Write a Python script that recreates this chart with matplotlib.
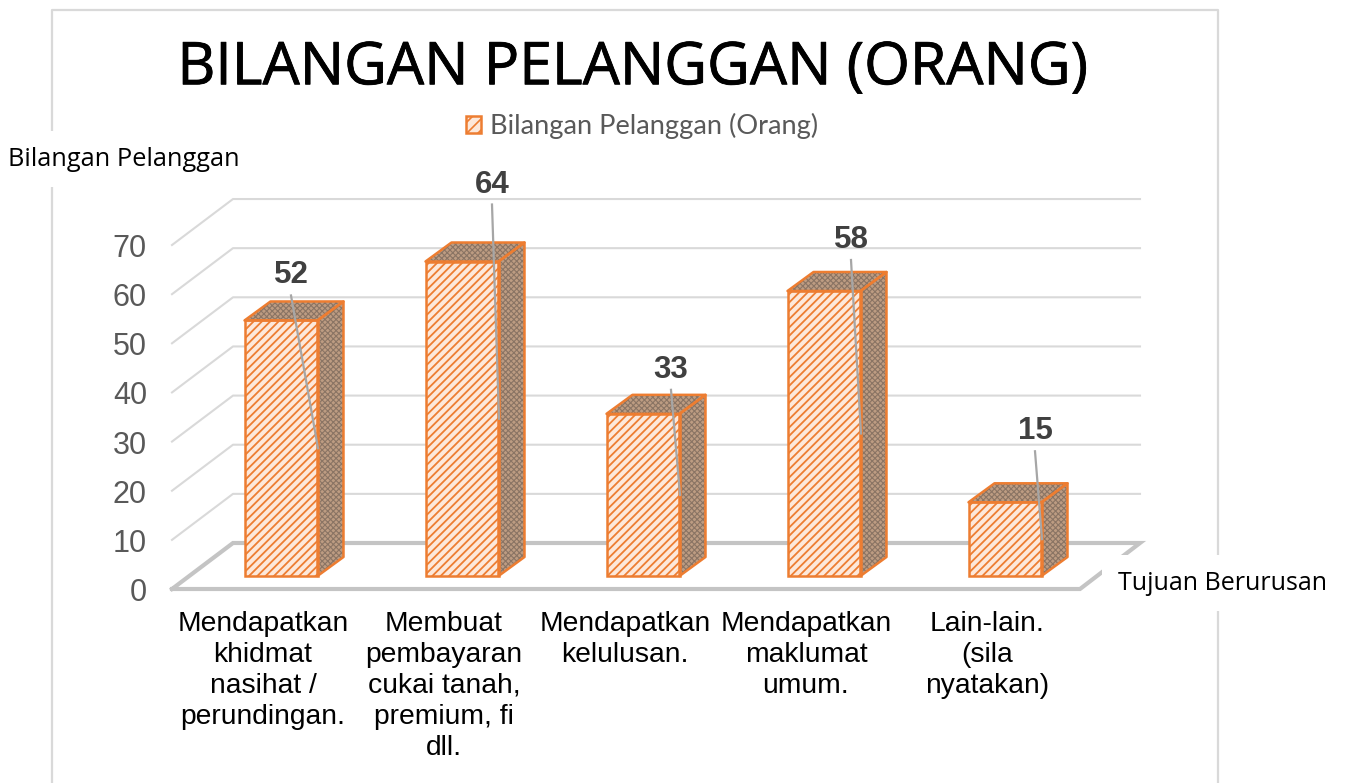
import matplotlib
matplotlib.use('Agg')
import matplotlib.pyplot as plt
import matplotlib.patheffects as pe
from matplotlib.patches import Polygon, Patch

# Data
categories = ['Mendapatkan\nkhidmat\nnasihat /\nperundingan.',
              'Membuat\npembayaran\ncukai tanah,\npremium, fi\ndll.',
              'Mendapatkan\nkelulusan.',
              'Mendapatkan\nmaklumat\numum.',
              'Lain-lain.\n(sila\nnyatakan)']
values = [52, 64, 33, 58, 15]
y_ticks = [0, 10, 20, 30, 40, 50, 60, 70]
series_name = 'Bilangan Pelanggan (Orang)'
title = 'BILANGAN PELANGGAN (ORANG)'
y_label = 'Bilangan Pelanggan'
x_label = 'Tujuan Berurusan'

# Pixel layout of the fake 3D box
W, H = 1346, 783
X0 = 281      # first bar centre
STEP = 181    # distance between bars
BASE = 576    # bar bottom
PX_UNIT = 4.914
ORANGE = '#ed7d31'
GRID = '#d9d9d9'
FLOOR = '#c4c4c4'

# leader lines and labels, pixels relative to bar centre / bar top
label_dx = [10, 30, 28, 27, 30]
label_dy = [45, 77, 44, 51, 71]
leader_dx = 37

fig = plt.figure(figsize=(W / 100, H / 100), dpi=100)
ax = fig.add_axes([0, 0, 1, 1])
ax.set_xlim((0 - X0) / STEP, (W - X0) / STEP)
ax.set_ylim((BASE - H) / PX_UNIT, BASE / PX_UNIT)
ax.axis('off')


def dx(px):
    return px / STEP


def dy(px):
    return px / PX_UNIT


def xp(px):
    return (px - X0) / STEP


# chart frame
ax.plot([xp(52), xp(52), xp(1218), xp(1218)], [-dy(H - BASE), dy(BASE - 10), dy(BASE - 10), -dy(H - BASE)],
        color='#d9d9d9', lw=1.6, zorder=1)

# back wall and side wall gridlines
for v in y_ticks[1:]:
    back = v + dy(BASE - 543)
    front = v + dy(BASE - 589)
    ax.plot([xp(172), xp(233), xp(1140)], [front, back, back], color=GRID, lw=1.5, zorder=2)

# floor
floor_back = dy(BASE - 543)
floor_front = dy(BASE - 589)
ax.plot([xp(172), xp(233), xp(1140), xp(1080), xp(172)],
        [floor_front, floor_back, floor_back, floor_front, floor_front],
        color=FLOOR, lw=3, zorder=2, solid_joinstyle='miter')

# y tick labels
for v in y_ticks:
    ax.text(xp(147), v + floor_front - dy(4), str(v), ha='right', va='center', fontsize=22,
            family='Liberation Sans', color='#595959', zorder=6)

# bars
bar_w = 73 / STEP
depth_x = dx(26)
depth_y = dy(19)
x_pos = list(range(len(values)))
plt.rcParams['hatch.linewidth'] = 1.3
bars = ax.bar(x_pos, values, width=bar_w, facecolor='#fde8da', edgecolor=ORANGE, linewidth=1.8,
              hatch='////', zorder=4)
ax.set_xlim((0 - X0) / STEP, (W - X0) / STEP)
ax.set_ylim((BASE - H) / PX_UNIT, BASE / PX_UNIT)

plt.rcParams['hatch.linewidth'] = 0.8
for i, v in enumerate(values):
    left = i - bar_w / 2
    right = i + bar_w / 2
    side = [(right, 0), (right + depth_x, depth_y), (right + depth_x, v + depth_y), (right, v)]
    top = [(left, v), (right, v), (right + depth_x, v + depth_y), (left + depth_x, v + depth_y)]
    for pts in (side, top):
        ax.add_patch(Polygon(pts, facecolor='#bd9c82', edgecolor='#8a7464', hatch='xxxxxx', lw=0, zorder=3.5))
        ax.add_patch(Polygon(pts, facecolor='none', edgecolor=ORANGE, lw=1.8, zorder=4, joinstyle='round'))

    # data label and its leader line
    lx = i + dx(label_dx[i])
    ly = v + dy(label_dy[i])
    ax.text(lx, ly, str(v), ha='center', va='center', fontsize=22.5, fontweight='bold',
            family='Liberation Sans', color='#404040', zorder=6)
    ax.plot([lx, i + dx(leader_dx)], [ly - dy(20), v * 0.5], color='#a6a6a6', lw=1.6, zorder=5)

# category labels
for i, c in enumerate(categories):
    ax.text(i - dx(18), -dy(35), c, ha='center', va='top', fontsize=20.3, family='Liberation Sans',
            color='black', linespacing=1.245, zorder=6)

# title
ax.text(xp(633), dy(BASE - 69), title, ha='center', va='center', fontsize=42.4, family='Open Sans',
        color='black', zorder=6, path_effects=[pe.withStroke(linewidth=0.6, foreground='black')])

# legend
plt.rcParams['hatch.linewidth'] = 1.2
leg = ax.legend(handles=[Patch(facecolor='#fde8da', edgecolor=ORANGE, hatch='///', lw=1.8, label=series_name)],
                loc='center', bbox_to_anchor=(642 / W, 1 - 126 / H), frameon=False,
                prop={'family': 'Lato', 'size': 19.6}, labelcolor='#595959',
                handlelength=0.55, handleheight=0.55, handletextpad=0.3)

# axis titles with white box over the frame
ax.text(xp(124), dy(BASE - 159), y_label, ha='center', va='center', fontsize=18.3, family='Open Sans',
        color='black', zorder=7, bbox=dict(facecolor='white', edgecolor='none', pad=11))
ax.text(xp(1222), dy(BASE - 583), x_label, ha='center', va='center', fontsize=18, family='Open Sans',
        color='black', zorder=7, bbox=dict(facecolor='white', edgecolor='none', pad=11))

fig.savefig('out.png', dpi=100)
